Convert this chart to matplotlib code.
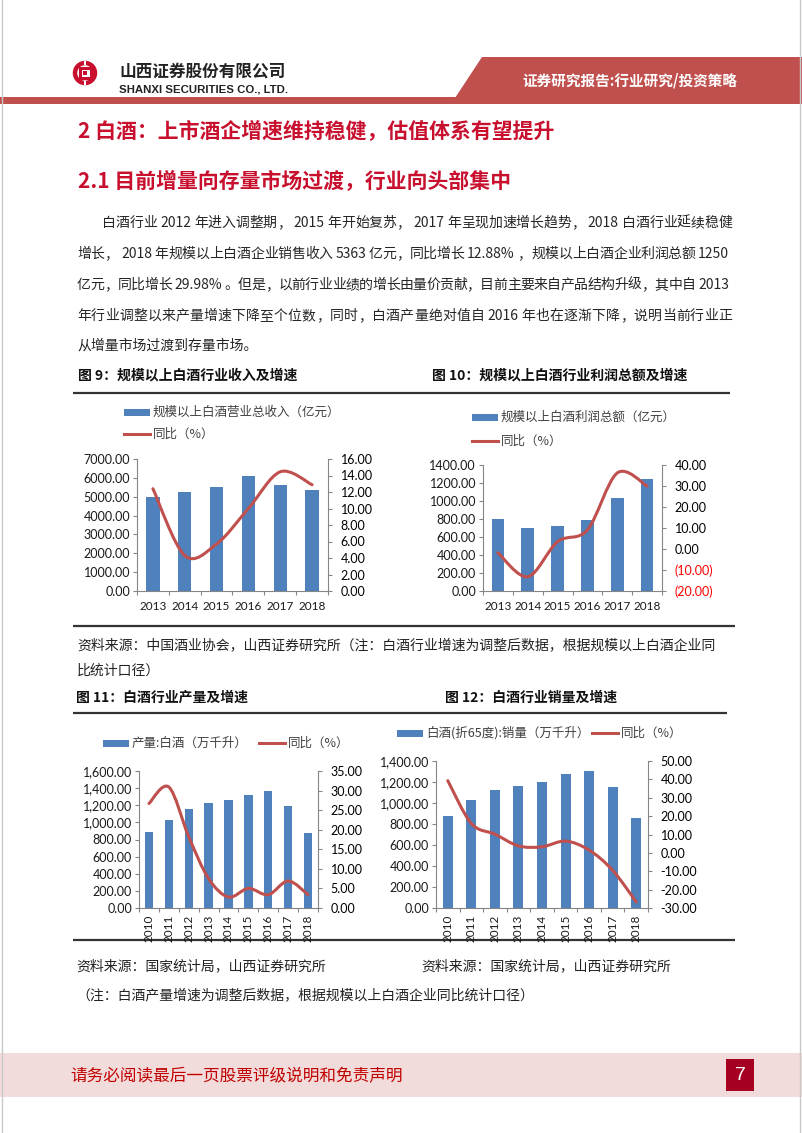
import re
import numpy as np
import matplotlib
matplotlib.use("Agg")
import matplotlib.pyplot as plt
from matplotlib.path import Path
from matplotlib.patches import PathPatch, Rectangle, Polygon, Circle
from matplotlib.ticker import FuncFormatter

plt.rcParams['font.family'] = ['Noto Sans CJK SC', 'DejaVu Sans']

# ---- data ----
years_a = ['2013', '2014', '2015', '2016', '2017', '2018']
revenue = [5000, 5230, 5530, 6100, 5640, 5363]          # 亿元
revenue_yoy = [12.4, 4.3, 5.7, 10.0, 14.45, 12.88]      # %
profit = [797, 696, 726, 793, 1032, 1250]               # 亿元
profit_yoy = [-1.8, -13.2, 3.5, 9.1, 36.2, 29.98]       # %

years_b = ['2010', '2011', '2012', '2013', '2014', '2015', '2016', '2017', '2018']
output = [891, 1027, 1151, 1221, 1256, 1314, 1364, 1194, 872]     # 万千升
output_yoy = [26.7, 30.9, 18.2, 7.5, 2.8, 5.0, 3.4, 6.9, 3.4]
sales = [875, 1024, 1126, 1164, 1202, 1278, 1307, 1157, 855]      # 万千升
sales_yoy = [39.3, 16.0, 10.2, 3.8, 3.3, 6.4, 1.5, -9.5, -26.7]

para = [
    "白酒行业 2012 年进入调整期，2015 年开始复苏，2017 年呈现加速增长趋势，2018 白酒行业延续稳健",
    "增长，2018 年规模以上白酒企业销售收入 5363 亿元，同比增长 12.88%，规模以上白酒企业利润总额 1250",
    "亿元，同比增长 29.98%。但是，以前行业业绩的增长由量价贡献，目前主要来自产品结构升级，其中自 2013",
    "年行业调整以来产量增速下降至个位数，同时，白酒产量绝对值自 2016 年也在逐渐下降，说明当前行业正",
    "从增量市场过渡到存量市场。",
]

BLUE = '#4f81bd'
RED = '#c0504d'
AXC = '#868686'
TITLE_RED = '#c8102e'

W, H = 802, 1133
fig = plt.figure(figsize=(W / 100, H / 100), dpi=100)

# page layer in pixel coordinates
page = fig.add_axes([0, 0, 1, 1])
page.set_xlim(0, W)
page.set_ylim(H, 0)
page.axis('off')

# header
page.add_patch(Polygon([(482, 57), (W, 57), (W, 98), (455, 98)], closed=True, color=RED, lw=0))
page.add_patch(Rectangle((0, 97), W, 7, color=RED, lw=0))
page.text(522, 80, "证券研究报告:行业研究/投资策略", fontsize=10.5, fontweight='bold',
          color='white', va='center')
# logo: ring with a 回 inside
page.add_patch(Circle((85, 73), 10, fill=False, ec=TITLE_RED, lw=3.2))
page.add_patch(Rectangle((79.5, 68), 11, 10, fill=False, ec=TITLE_RED, lw=2.2))
page.add_patch(Rectangle((83, 71), 4, 4, color=TITLE_RED, lw=0))
page.add_patch(Rectangle((84, 61), 2, 4, color='white', lw=0))
page.add_patch(Rectangle((84, 81), 2, 4, color='white', lw=0))
page.text(119, 72, "山西证券股份有限公司", fontsize=12, fontweight='bold', color='#222222', va='center')
page.text(119, 89, "SHANXI SECURITIES CO., LTD.", fontsize=8.2, fontweight='bold',
          color='#222222', va='center', family='Liberation Sans')
page.plot([1.5, 1.5], [0, H], color='#c8c8c8', lw=1)
page.plot([800, 800], [0, H], color='#c8c8c8', lw=1)

# section titles
page.text(78, 131, "2 白酒：上市酒企增速维持稳健，估值体系有望提升", fontsize=15,
          fontweight='bold', color=TITLE_RED, va='center')
page.text(78, 181, "2.1 目前增量向存量市场过渡，行业向头部集中", fontsize=15,
          fontweight='bold', color=TITLE_RED, va='center')

# justified paragraph
renderer = fig.canvas.get_renderer()
probe = page.text(0, 0, '', fontsize=10)


def width_of(s):
    probe.set_text(s)
    return probe.get_window_extent(renderer).width


base = width_of('白白')


def justify(line, x0, x1, y, fs=10, color='#262626'):
    toks = re.findall(r'[0-9][0-9.%]*|\S', line)
    ws = []
    for t in toks:
        w = width_of('白' + t + '白') - base
        if t[0].isdigit():
            w += 6
        ws.append(w)
    gap = (x1 - x0 - sum(ws)) / (len(toks) - 1)
    x = x0
    for t, w in zip(toks, ws):
        off = 3 if t[0].isdigit() else 0
        page.text(x + off, y, t, fontsize=fs, color=color, va='center', ha='left')
        x += w + gap


para_y = [223, 254, 285, 316, 346]
justify(para[0], 102, 732, para_y[0])
for line, y in zip(para[1:4], para_y[1:4]):
    justify(line, 77, 732, y)
page.text(77, para_y[4], para[4], fontsize=10, color='#262626', va='center')
probe.remove()

# captions and rules
cap = dict(fontsize=10, fontweight='bold', color='#111111', va='center')
page.text(78, 376, "图 9：规模以上白酒行业收入及增速", **cap)
page.text(432, 376, "图 10：规模以上白酒行业利润总额及增速", **cap)
page.text(76, 698, "图 11：白酒行业产量及增速", **cap)
page.text(445, 698, "图 12：白酒行业销量及增速", **cap)
for y, xa, xb in [(393, 73, 730), (626, 73, 735), (713, 73, 727), (940, 73, 735)]:
    page.plot([xa, xb], [y, y], color='#333333', lw=1.6, solid_capstyle='butt')

src = dict(fontsize=10, color='#222222', va='center')
page.text(77, 645, "资料来源：中国酒业协会，山西证券研究所（注：白酒行业增速为调整后数据，根据规模以上白酒企业同", **src)
page.text(77, 671, "比统计口径）", **src)
page.text(76, 966, "资料来源：国家统计局，山西证券研究所", **src)
page.text(421, 966, "资料来源：国家统计局，山西证券研究所", **src)
page.text(76, 995, "（注：白酒产量增速为调整后数据，根据规模以上白酒企业同比统计口径）", **src)

# footer
page.add_patch(Rectangle((0, 1053), W, 44, color='#f2dcdb', lw=0))
page.add_patch(Rectangle((726, 1059), 28, 32, color='#a50021', lw=0))
page.text(740, 1075, "7", fontsize=14, color='white', ha='center', va='center', family='Liberation Sans')
page.text(70, 1077, "请务必阅读最后一页股票评级说明和免责声明", fontsize=12, color='#c00000', va='center')


# legends (pixel coords)
def legend_bar(x, y, label):
    page.add_patch(Rectangle((x, y - 3.5), 26, 7, color=BLUE, lw=0))
    page.text(x + 29, y, label, fontsize=9, color='#404040', va='center')


def legend_line(x, y, label):
    page.plot([x, x + 26], [y, y], color=RED, lw=2.2)
    page.text(x + 29, y, label, fontsize=9, color='#404040', va='center')


legend_bar(124, 412, "规模以上白酒营业总收入（亿元）")
legend_line(124, 434, "同比（%）")
legend_bar(472, 417, "规模以上白酒利润总额（亿元）")
legend_line(472, 441, "同比（%）")
legend_bar(103, 743, "产量:白酒（万千升）")
legend_line(259, 743, "同比（%）")
legend_bar(397, 733, "白酒(折65度):销量（万千升）")
legend_line(592, 733, "同比（%）")


def smooth_path(xs, ys):
    pts = np.column_stack([xs, ys]).astype(float)
    n = len(pts)
    verts = [pts[0]]
    codes = [Path.MOVETO]
    for i in range(n - 1):
        p0 = pts[i - 1] if i > 0 else pts[i]
        p1, p2 = pts[i], pts[i + 1]
        p3 = pts[i + 2] if i + 2 < n else pts[i + 1]
        verts += [p1 + (p2 - p0) / 6, p2 - (p3 - p1) / 6, p2]
        codes += [Path.CURVE4] * 3
    return Path(verts, codes)


def chart(box, years, bars, yoy, lmax, lstep, rlim, rstep, lfmt, rfmt, rotate=False, neg_red=False):
    x0, y0, x1, y1 = box
    ax = fig.add_axes([x0 / W, 1 - y1 / H, (x1 - x0) / W, (y1 - y0) / H])
    ax.set_facecolor('none')
    x = np.arange(len(years))
    ax.bar(x, bars, width=0.42, color=BLUE, zorder=2)
    ax.set_xlim(-0.5, len(years) - 0.5)
    ax.set_ylim(0, lmax)
    ax.set_yticks(np.arange(0, lmax + 1e-6, lstep))
    ax.yaxis.set_major_formatter(FuncFormatter(lambda v, p: lfmt.format(v)))
    ax.set_xticks(x)
    ax.set_xticklabels(years, rotation=90 if rotate else 0,
                       va='top', ha='center')
    ax.set_xticks(np.arange(-0.5, len(years)), minor=True)
    ax.tick_params(axis='x', which='major', length=0, pad=5 if rotate else 7,
                   labelsize=8.5, labelfontfamily='Lato', labelcolor='#1a1a1a')
    ax.tick_params(axis='x', which='minor', length=3, color=AXC, width=0.8)
    ax.tick_params(axis='y', length=3, color=AXC, width=0.8, pad=2,
                   labelsize=9, labelfontfamily='Lato', labelcolor='#1a1a1a')
    for s in ['top', 'right']:
        ax.spines[s].set_visible(False)
    for s in ['left', 'bottom']:
        ax.spines[s].set_color(AXC)
        ax.spines[s].set_linewidth(0.8)

    ax2 = ax.twinx()
    ax2.set_ylim(*rlim)
    rt = np.arange(rlim[0], rlim[1] + 1e-6, rstep)
    ax2.set_yticks(rt)
    labels = []
    for v in rt:
        if neg_red and v < 0:
            labels.append('({:.2f})'.format(abs(v)))
        else:
            labels.append(rfmt.format(v))
    ax2.set_yticklabels(labels)
    if neg_red:
        for lbl, v in zip(ax2.get_yticklabels(), rt):
            if v < 0:
                lbl.set_color('#ff0000')
    ax2.tick_params(axis='y', length=3, color=AXC, width=0.8, pad=6,
                    labelsize=9, labelfontfamily='Lato')
    for s in ['top', 'left', 'bottom']:
        ax2.spines[s].set_visible(False)
    ax2.spines['right'].set_color(AXC)
    ax2.spines['right'].set_linewidth(0.8)
    ax2.add_patch(PathPatch(smooth_path(x, yoy), fill=False, ec=RED, lw=2.2,
                            capstyle='round', zorder=3))
    return ax, ax2


chart((137, 459, 328, 591), years_a, revenue, revenue_yoy, 7000, 1000, (0, 16), 2,
      '{:.2f}', '{:.2f}')
chart((483, 465, 662, 591), years_a, profit, profit_yoy, 1400, 200, (-20, 40), 10,
      '{:.2f}', '{:.2f}', neg_red=True)
chart((139, 771, 318, 908), years_b, output, output_yoy, 1600, 200, (0, 35), 5,
      '{:,.2f}', '{:.2f}', rotate=True)
chart((436, 761, 648, 908), years_b, sales, sales_yoy, 1400, 200, (-30, 50), 10,
      '{:,.2f}', '{:.2f}', rotate=True)

fig.savefig('out.png', dpi=100)
